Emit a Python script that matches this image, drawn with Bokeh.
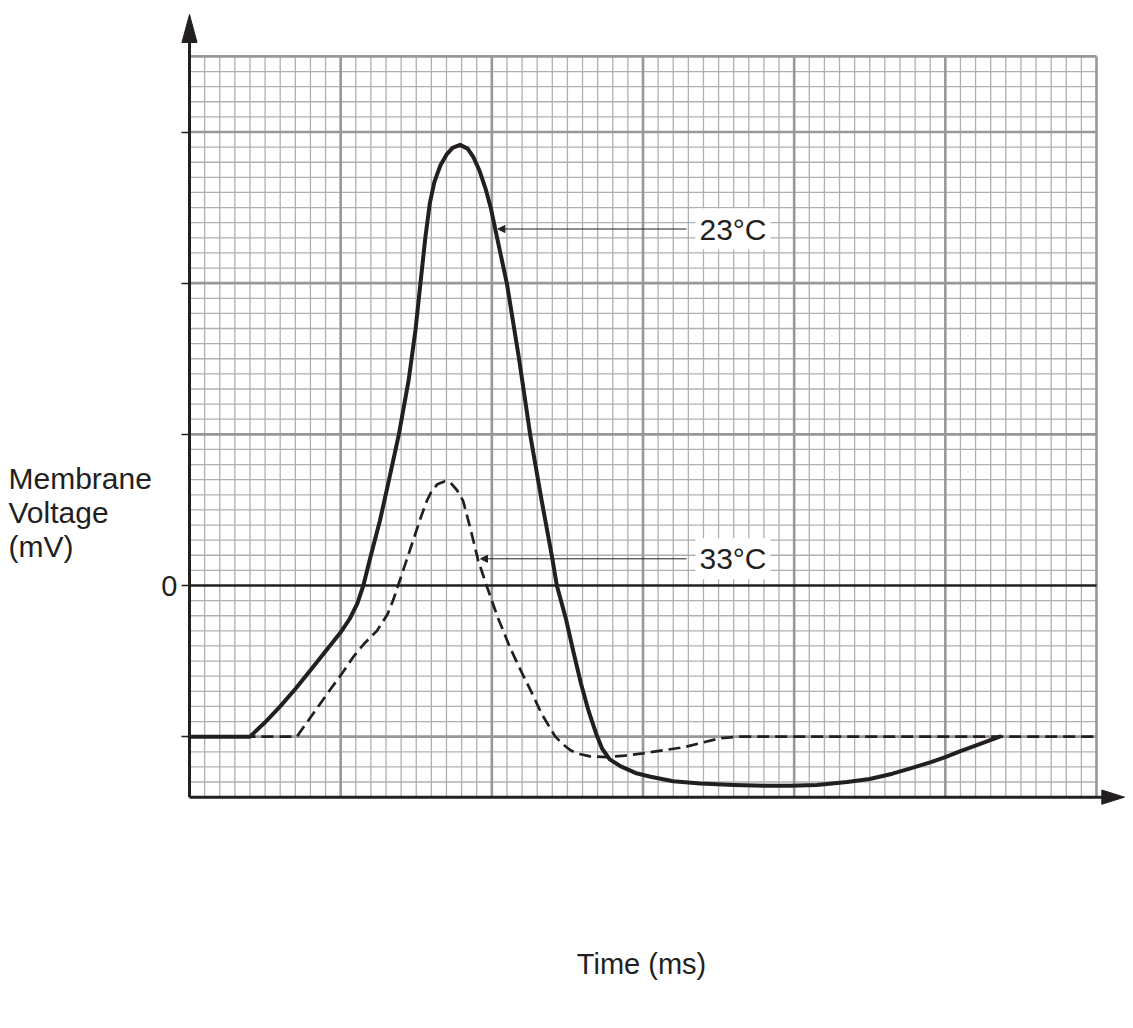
from bokeh.plotting import figure
from bokeh.models import Range1d, FixedTicker, Label, Arrow, NormalHead, LinearAxis, Grid
from bokeh.embed import file_html
from bokeh.resources import INLINE

# ---- data (grid units: 1 unit = one small square; 0 = the 0 mV line) ----
t_23 = [0, 4.0, 5.0, 6.0, 7.0, 8.0, 9.0, 10.0, 10.6, 11.1, 11.5, 12.0, 12.6, 13.2, 13.85,
        14.5, 14.95, 15.3, 15.6, 15.9, 16.2, 16.6, 17.0, 17.4, 17.9, 18.4, 18.8, 19.2,
        19.6, 19.95, 20.35, 21.0, 21.8, 22.55, 23.3, 24.0, 24.3, 24.9, 25.4, 25.9, 26.4,
        26.9, 27.3, 27.8, 28.5, 29.5, 30.5, 32.0, 33.8, 36.0, 38.0, 39.7, 41.5, 43.5, 45.0,
        46.5, 47.7, 49.0, 50.0, 51.0, 52.0, 52.8, 53.6]
v_23 = [-10, -10, -9.05, -8.0, -6.85, -5.6, -4.35, -3.1, -2.2, -1.2, 0, 2.0, 4.3, 7.0, 10.0,
        13.6, 16.9, 20.2, 23.0, 25.3, 26.7, 27.8, 28.5, 28.95, 29.15, 28.9, 28.3, 27.4,
        26.2, 24.9, 23.0, 19.95, 15.0, 9.9, 5.6, 1.8, 0, -2.2, -4.4, -6.5, -8.3,
        -9.8, -10.8, -11.5, -11.95, -12.4, -12.65, -12.95, -13.1, -13.2, -13.25, -13.25, -13.2, -13.0, -12.8,
        -12.45, -12.1, -11.7, -11.35, -10.95, -10.6, -10.3, -10.0]

t_33 = [0, 7.1, 8.2, 9.3, 10.1, 10.85, 11.6, 12.4, 13.1, 13.5, 13.8, 14.3, 14.8, 15.3,
        15.7, 16.0, 16.4, 16.9, 17.3, 17.7, 18.1, 18.6, 19.1, 19.65, 20.35, 21.2, 22.0,
        22.55, 23.3, 24.2, 24.7, 25.2, 25.8, 26.5, 27.6, 28.8, 30.0, 32.7, 35.1, 36.4, 60]
v_33 = [-10, -10, -8.45, -6.9, -5.8, -4.7, -3.8, -3.0, -1.9, -0.9, 0, 1.5, 3.0, 4.5,
        5.6, 6.2, 6.7, 6.9, 6.75, 6.3, 5.6, 3.7, 1.65, 0, -2.0, -4.1, -5.8,
        -6.9, -8.5, -10.0, -10.5, -10.9, -11.15, -11.3, -11.35, -11.25, -11.1, -10.7, -10.1, -10.0, -10.0]

y_ticks = [-10, 0, 10, 20, 30]
y_tick_labels = {-10: "", 0: "0", 10: "", 20: "", 30: ""}
series_labels = ["23°C", "33°C"]
y_title = ["Membrane", "Voltage", "(mV)"]
x_title = "Time (ms)"

# ---- layout: the frame covers the whole canvas; data (0, 0) sits at pixel (189, 585) ----
X_MIN, X_MAX = 0, 60
Y_MIN, Y_MAX = -14, 35
W, H = 1125, 1020
S = 907 / 60.0  # px per grid unit
OX, OY = 189, 585
INK = "#231f20"
FONT = "Liberation Sans"

def ux(px):
    return (px - OX) / S

def uy(py):
    return (OY - py) / S

p = figure(width=W, height=H,
           x_range=Range1d(ux(0), ux(W)), y_range=Range1d(uy(H), uy(0)),
           min_border=0, min_border_left=0, min_border_right=0,
           min_border_top=0, min_border_bottom=0,
           x_axis_location=None, y_axis_location=None,
           toolbar_location=None, tools="", output_backend="svg")
p.outline_line_color = None
p.background_fill_color = "white"
p.border_fill_color = "white"
for r in list(p.center):
    if isinstance(r, Grid):
        r.visible = False
        r.grid_line_color = None

# y axis drawn at x = 0: ticks and the single "0" label
ax = LinearAxis(fixed_location=0)
ax.ticker = FixedTicker(ticks=y_ticks)
ax.major_label_overrides = y_tick_labels
ax.axis_line_color = None
ax.major_tick_in = 0
ax.major_tick_out = 8
ax.major_tick_line_width = 1.5
ax.major_tick_line_color = INK
ax.minor_tick_line_color = None
ax.major_label_standoff = 4
ax.major_label_text_font = FONT
ax.major_label_text_font_size = "29px"
ax.major_label_text_color = INK
p.add_layout(ax, "left")

# graph-paper grid
minor_x = [i for i in range(X_MIN + 1, X_MAX) if i % 10]
major_x = [i for i in range(X_MIN + 10, X_MAX + 1, 10)]
minor_y = [j for j in range(Y_MIN + 1, Y_MAX) if j % 10]
major_y = [j for j in range(Y_MIN + 1, Y_MAX) if j % 10 == 0 and j != 0] + [Y_MAX]

p.segment(x0=minor_x, y0=[Y_MIN] * len(minor_x), x1=minor_x, y1=[Y_MAX] * len(minor_x),
          line_color="#b0b0b0", line_width=1.3)
p.segment(x0=[X_MIN] * len(minor_y), y0=minor_y, x1=[X_MAX] * len(minor_y), y1=minor_y,
          line_color="#b0b0b0", line_width=1.3)
p.segment(x0=major_x, y0=[Y_MIN] * len(major_x), x1=major_x, y1=[Y_MAX] * len(major_x),
          line_color="#989898", line_width=2.6)
p.segment(x0=[X_MIN] * len(major_y), y0=major_y, x1=[X_MAX] * len(major_y), y1=major_y,
          line_color="#989898", line_width=2.6)
p.segment(x0=[X_MIN], y0=[0], x1=[X_MAX], y1=[0], line_color=INK, line_width=2.4)

# curves
p.line(t_33, v_33, line_color=INK, line_width=2.7, line_dash="12 6", line_join="round")
p.line(t_23, v_23, line_color=INK, line_width=4.0, line_join="round", line_cap="round")

# axes with arrowheads
tip_y = uy(14)
tip_x = ux(1124)
p.segment(x0=[X_MIN], y0=[Y_MIN], x1=[X_MIN], y1=[tip_y - 1.0], line_color=INK, line_width=3)
p.segment(x0=[X_MIN], y0=[Y_MIN], x1=[tip_x - 1.0], y1=[Y_MIN], line_color=INK, line_width=3)
p.patch([X_MIN - 0.5, X_MIN, X_MIN + 0.5], [tip_y - 1.85, tip_y, tip_y - 1.85],
        fill_color=INK, line_color=INK, line_width=1)
p.patch([tip_x - 1.5, tip_x, tip_x - 1.5], [Y_MIN - 0.47, Y_MIN, Y_MIN + 0.47],
        fill_color=INK, line_color=INK, line_width=1)

# series labels with pointer arrows
for txt, ly, tipx in [(series_labels[0], uy(228.5), 20.4), (series_labels[1], uy(558.3), 19.25)]:
    p.add_layout(Arrow(end=NormalHead(size=7, fill_color=INK, line_color=INK, line_width=1),
                       x_start=ux(686), y_start=ly, x_end=tipx, y_end=ly,
                       line_color=INK, line_width=1))
    p.add_layout(Label(x=ux(695), y=ly, text=txt, text_font=FONT, text_font_size="30px",
                       text_color=INK, text_align="left", text_baseline="middle",
                       background_fill_color="white", padding=4))

# axis titles
for txt, py in zip(y_title, [478, 512, 546]):
    p.add_layout(Label(x=ux(8), y=uy(py), text=txt, text_font=FONT, text_font_size="30px",
                       text_color=INK, text_align="left", text_baseline="middle"))
p.add_layout(Label(x=ux(641), y=uy(963), text=x_title, text_font=FONT, text_font_size="29px",
                   text_color=INK, text_align="center", text_baseline="middle"))

open("out.html", "w").write(file_html(p, INLINE))
